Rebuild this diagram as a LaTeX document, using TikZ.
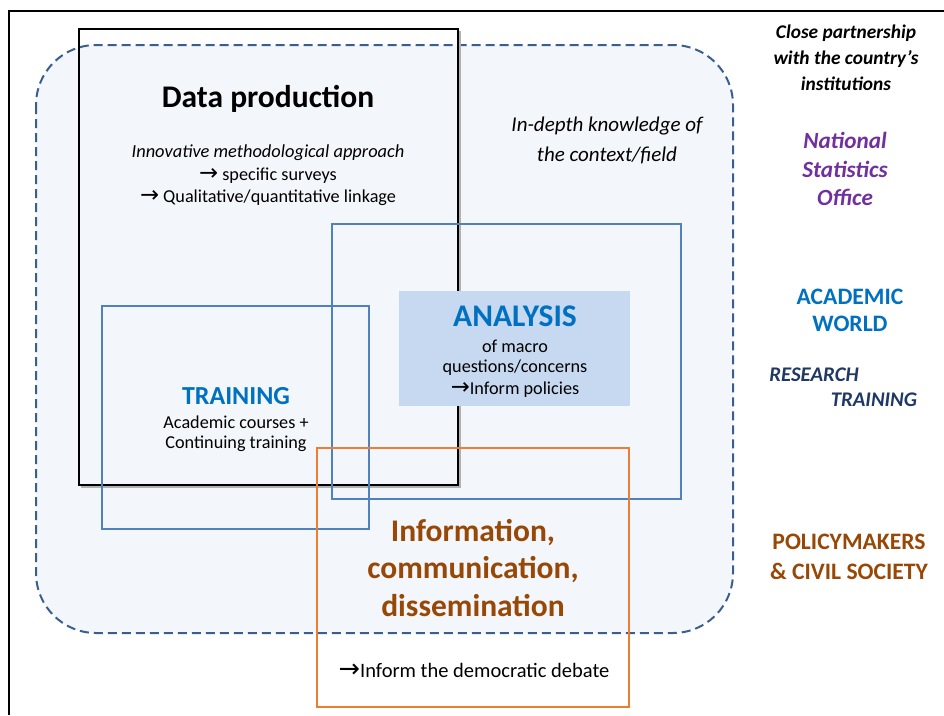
\documentclass[tikz,border=0pt]{standalone}
\usepackage{fontspec}
\setmainfont{Carlito}
\newfontfamily\arrowfont{DejaVu Sans}
\newcommand{\rarr}{{\arrowfont\fontsize{1.25em}{1em}\selectfont\char"2192}}
\definecolor{bgfill}{HTML}{F3F6FB}
\definecolor{dashblue}{HTML}{3A5F8E}
\definecolor{boxblue}{HTML}{4F81BD}
\definecolor{anafill}{HTML}{C6D9F1}
\definecolor{txtblue}{HTML}{0070C0}
\definecolor{txtpurple}{HTML}{7030A0}
\definecolor{txtbrown}{HTML}{974806}
\definecolor{txtnavy}{HTML}{1F3864}
\definecolor{orangeline}{HTML}{ED7D31}
\tikzset{
  px/.style={x=1pt,y=-1pt},
  txt/.style={inner sep=0pt,align=center,text=black},
  bluebox/.style={draw=boxblue,line width=2pt},
}
\begin{document}
\begin{tikzpicture}[px]
\useasboundingbox (0,0) rectangle (944,715);
% outer frame
\draw[line width=2.2pt,black] (9,715) -- (9,11) -- (944,11);
% dashed region
\draw[draw=dashblue,fill=bgfill,line width=2pt,dash pattern=on 9pt off 5pt,rounded corners=60pt] (36,45) rectangle (733,633);
% data production box
\draw[gray!60,line width=2pt] (81,487) -- (460,487) -- (460,31);
\draw[black,line width=2pt] (79,29) rectangle (458,485);
% analysis filled box
\fill[anafill] (399,291) rectangle (630,406);
% blue boxes
\draw[bluebox] (102,306) rectangle (369,529);
\draw[bluebox] (332,224) rectangle (681,499);
% orange box
\draw[draw=orangeline,line width=2pt] (317,448) rectangle (629,707);

% texts
\node[txt,font=\fontsize{31.5}{36}\selectfont\bfseries] (dp) at (268,99) {Data production};
\node[txt,font=\fontsize{18.4}{22}\selectfont\itshape] (dp1) at (268,153) {Innovative methodological approach};
\node[txt,font=\fontsize{18.2}{22}\selectfont] (dp2) at (268,176) {\rarr{} specific surveys};
\node[txt,font=\fontsize{18.2}{22}\selectfont] (dp3) at (268,198) {\rarr{} Qualitative/quantitative linkage};

\node[txt,font=\fontsize{21}{24}\selectfont\itshape] (idk1) at (607,126) {In-depth knowledge of};
\node[txt,font=\fontsize{21}{24}\selectfont\itshape] (idk2) at (607,155) {the context/field};

\node[txt,font=\fontsize{31.5}{36}\selectfont\bfseries,text=txtblue] (ana) at (515,316) {ANALYSIS};
\node[txt,font=\fontsize{18.2}{22}\selectfont] (ana1) at (515,346) {of macro};
\node[txt,font=\fontsize{18.2}{22}\selectfont] (ana2) at (515,368) {questions/concerns};
\node[txt,font=\fontsize{18.2}{22}\selectfont] (ana3) at (515,390) {\rarr{}Inform policies};

\node[txt,font=\fontsize{26}{30}\selectfont\bfseries,text=txtblue] (tr) at (236,396) {TRAINING};
\node[txt,font=\fontsize{18.2}{22}\selectfont] (tr1) at (236,422) {Academic courses +};
\node[txt,font=\fontsize{18.2}{22}\selectfont] (tr2) at (236,444) {Continuing training};

\node[txt,font=\fontsize{31.5}{36}\selectfont\bfseries,text=txtbrown] (inf1) at (473,533) {Information,};
\node[txt,font=\fontsize{31.5}{36}\selectfont\bfseries,text=txtbrown] (inf2) at (473,570) {communication,};
\node[txt,font=\fontsize{31.5}{36}\selectfont\bfseries,text=txtbrown] (inf3) at (473,606) {dissemination};
\node[txt,font=\fontsize{20.5}{24}\selectfont] (inf4) at (474,670) {\rarr{}Inform the democratic debate};

\node[txt,font=\fontsize{19.4}{23}\selectfont\bfseries\itshape] (cp1) at (846,33) {Close partnership};
\node[txt,font=\fontsize{19.4}{23}\selectfont\bfseries\itshape] (cp2) at (846,59) {with the country’s};
\node[txt,font=\fontsize{19.4}{23}\selectfont\bfseries\itshape] (cp3) at (846,84) {institutions};

\node[txt,font=\fontsize{23.2}{27}\selectfont\bfseries\itshape,text=txtpurple] (ns1) at (845,140) {National};
\node[txt,font=\fontsize{23.2}{27}\selectfont\bfseries\itshape,text=txtpurple] (ns2) at (845,169) {Statistics};
\node[txt,font=\fontsize{23.2}{27}\selectfont\bfseries\itshape,text=txtpurple] (ns3) at (845,197) {Office};

\node[txt,font=\fontsize{23.6}{27}\selectfont\bfseries,text=txtblue] (aw1) at (850,297) {ACADEMIC};
\node[txt,font=\fontsize{23.6}{27}\selectfont\bfseries,text=txtblue] (aw2) at (850,324) {WORLD};

\node[txt,font=\fontsize{20.8}{24}\selectfont\bfseries\itshape,text=txtnavy] (rt1) at (814,375) {RESEARCH};
\node[txt,font=\fontsize{20.8}{24}\selectfont\bfseries\itshape,text=txtnavy] (rt2) at (874,400) {TRAINING};

\node[txt,font=\fontsize{23.6}{27}\selectfont\bfseries,text=txtbrown] (pm1) at (849,542) {POLICYMAKERS};
\node[txt,font=\fontsize{23.6}{27}\selectfont\bfseries,text=txtbrown] (pm2) at (849,571) {\& CIVIL SOCIETY};
\end{tikzpicture}
\end{document}
